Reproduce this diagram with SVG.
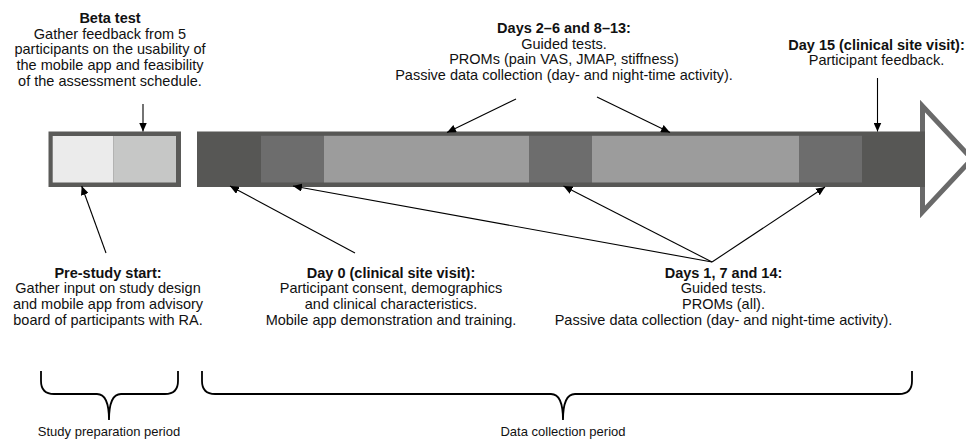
<svg xmlns="http://www.w3.org/2000/svg" width="966" height="441" viewBox="0 0 966 441">
<defs>
<style>
text{font-family:"Liberation Sans",Arial,sans-serif;fill:#111;text-anchor:middle}
.t{font-size:14.5px}
.b{font-weight:bold}
.s{font-size:13px}
.c{stroke:#000;stroke-width:1.1;fill:none;marker-end:url(#ah)}
.br{stroke:#000;stroke-width:1.8;fill:none}
</style>
<marker id="ah" markerWidth="9" markerHeight="8" refX="9" refY="4" orient="auto" markerUnits="userSpaceOnUse">
<path d="M0,0 L9,4 L0,8 z" fill="#000"/>
</marker>
</defs>
<rect width="966" height="441" fill="#fff"/>
<g id="prep-box">
<rect x="48.5" y="131.5" width="132.5" height="55.5" fill="#5a5a58"/>
<rect x="52.7" y="136" width="60.6" height="46.5" fill="#ebebeb"/>
<rect x="113.3" y="136" width="62.7" height="46.5" fill="#c6c7c6"/>
</g>
<g id="timeline">
<polygon points="922.5,106 922.5,212 972,159" fill="#fff" stroke="#6a6a6a" stroke-width="5" stroke-linejoin="miter"/>
<rect x="197" y="131.5" width="728" height="55.5" fill="#575755"/>
<rect x="261" y="135.8" width="63" height="46.7" fill="#6d6d6d"/>
<rect x="324" y="135.8" width="205" height="46.7" fill="#9c9c9c"/>
<rect x="529" y="135.8" width="63" height="46.7" fill="#6d6d6d"/>
<rect x="592" y="135.8" width="207" height="46.7" fill="#9c9c9c"/>
<rect x="799" y="135.8" width="63" height="46.7" fill="#6d6d6d"/>
</g>
<g id="beta-test">
<text class="t b" x="110" y="22.5">Beta test</text>
<text class="t" x="110" y="38.5">Gather feedback from 5</text>
<text class="t" x="110" y="54.2">participants on the usability of</text>
<text class="t" x="110" y="69.9">the mobile app and feasibility</text>
<text class="t" x="110" y="85.6">of the assessment schedule.</text>
</g>
<g id="days-2-6">
<text class="t b" x="564" y="33">Days 2–6 and 8–13:</text>
<text class="t" x="564" y="48.7">Guided tests.</text>
<text class="t" x="564" y="64.4">PROMs (pain VAS, JMAP, stiffness)</text>
<text class="t" x="564" y="80.1">Passive data collection (day- and night-time activity).</text>
</g>
<g id="day-15">
<text class="t b" x="876.5" y="49.5">Day 15 (clinical site visit):</text>
<text class="t" x="876.5" y="65.2">Participant feedback.</text>
</g>
<g id="pre-study">
<text class="t b" x="108" y="277.5">Pre-study start:</text>
<text class="t" x="108" y="293.2">Gather input on study design</text>
<text class="t" x="108" y="308.9">and mobile app from advisory</text>
<text class="t" x="108" y="324.6">board of participants with RA.</text>
</g>
<g id="day-0">
<text class="t b" x="391" y="277.5">Day 0 (clinical site visit):</text>
<text class="t" x="391" y="293.2">Participant consent, demographics</text>
<text class="t" x="391" y="308.9">and clinical characteristics.</text>
<text class="t" x="391" y="324.6">Mobile app demonstration and training.</text>
</g>
<g id="days-1-7-14">
<text class="t b" x="723.5" y="277.5">Days 1, 7 and 14:</text>
<text class="t" x="723.5" y="293.2">Guided tests.</text>
<text class="t" x="723.5" y="308.9">PROMs (all).</text>
<text class="t" x="723.5" y="324.6">Passive data collection (day- and night-time activity).</text>
</g>
<g id="study-prep-period">
<path class="br" d="M41,371 L41,381 Q41,394 54,394 L97,394 Q109,394 109,420 Q109,394 121,394 L165,394 Q178,394 178,381 L178,371"/>
<text class="s" x="109" y="436">Study preparation period</text>
</g>
<g id="data-collection-period">
<path class="br" d="M202,371 L202,381 Q202,394 215,394 L551,394 Q563,394 563,420 Q563,394 575,394 L899,394 Q912,394 912,381 L912,371"/>
<text class="s" x="563" y="436">Data collection period</text>
</g>
<g id="connectors">
<line class="c" x1="143" y1="104" x2="143" y2="131.5"/>
<line class="c" x1="106" y1="253" x2="81.7" y2="186"/>
<line class="c" x1="355" y1="253" x2="230" y2="186"/>
<line class="c" x1="712" y1="262" x2="293" y2="186"/>
<line class="c" x1="712" y1="262" x2="563.5" y2="186"/>
<line class="c" x1="712" y1="262" x2="825" y2="187"/>
<line class="c" x1="516" y1="99" x2="447" y2="132.5"/>
<line class="c" x1="597" y1="97" x2="670" y2="132.5"/>
<line class="c" x1="877.5" y1="78" x2="877.5" y2="131.5"/>
</g>
</svg>
